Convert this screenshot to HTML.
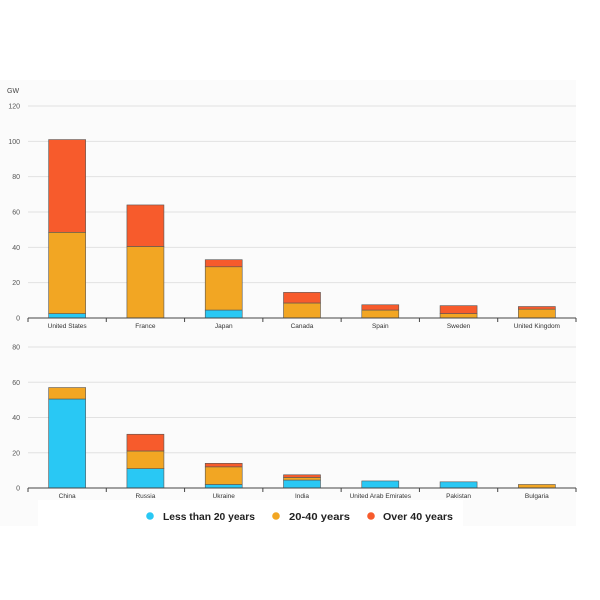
<!DOCTYPE html>
<html><head><meta charset="utf-8"><style>
html,body{margin:0;padding:0;background:#fff;}
svg{display:block;font-family:"Liberation Sans",sans-serif;}
</style></head><body>
<svg id="s" width="600" height="600" viewBox="0 0 600 600">
<rect x="0" y="80" width="576" height="446" fill="#fbfbfb"/>
<rect x="38" y="500" width="425" height="30" fill="#fff"/>
<text x="7" y="93" font-size="7" fill="#444">GW</text>
<g font-size="10.5" font-weight="bold" fill="#222">
<circle cx="150" cy="516" r="3.8" fill="#29c8f4"/>
<text x="163" y="520" textLength="92" lengthAdjust="spacingAndGlyphs">Less than 20 years</text>
<circle cx="276" cy="516" r="3.8" fill="#f2a623"/>
<text x="289" y="520" textLength="61" lengthAdjust="spacingAndGlyphs">20-40 years</text>
<circle cx="371" cy="516" r="3.8" fill="#f75b2c"/>
<text x="383" y="520" textLength="70" lengthAdjust="spacingAndGlyphs">Over 40 years</text>
</g>
</svg>
<script>
const s=document.getElementById('s');const NS='http://www.w3.org/2000/svg';
function el(t,a,txt){const e=document.createElementNS(NS,t);for(const k in a)e.setAttribute(k,a[k]);if(txt!==undefined)e.textContent=txt;s.appendChild(e);return e;}
const C=['#29c8f4','#f2a623','#f75b2c'];
function chart(y0,ppu,max,names,data){
  for(let v=0;v<=max;v+=20){const y=y0-v*ppu;
    if(v>0)el('line',{x1:28,x2:576,y1:y,y2:y,stroke:'#e2e2e2','stroke-width':1});
    el('text',{x:20,y:y+2.5,'font-size':7,fill:'#555','text-anchor':'end'},v);}
  const w=(576-28)/7;
  names.forEach((n,i)=>{const cx=28+w*(i+0.5);let prev=0;
    data[i].forEach((v,j)=>{if(v>prev){el('rect',{x:cx-18.5,y:y0-v*ppu,width:37,height:(v-prev)*ppu,fill:C[j],stroke:'#555','stroke-width':0.6});prev=v;}});
    el('text',{x:cx,y:y0+10,'font-size':6.5,fill:'#333','text-anchor':'middle'},n);});
  el('line',{x1:28,x2:576,y1:y0,y2:y0,stroke:'#444','stroke-width':1});
  for(let i=0;i<=7;i++){const x=28+w*i;el('line',{x1:x,x2:x,y1:y0,y2:y0+4,stroke:'#444','stroke-width':1});}
}
chart(318,35.33/20,120,['United States','France','Japan','Canada','Spain','Sweden','United Kingdom'],
 [[2.5,48.5,101],[0,40.5,64],[4.5,29,33],[0,8.5,14.5],[0,4.5,7.5],[0,2.5,7],[0,5,6.5]]);
chart(488,35.25/20,80,['China','Russia','Ukraine','India','United Arab Emirates','Pakistan','Bulgaria'],
 [[50.5,57,0],[11,21,30.5],[2,12,14],[4.5,6,7.5],[4,0,0],[3.5,0,0],[0,2,0]]);
</script>
</body></html>
